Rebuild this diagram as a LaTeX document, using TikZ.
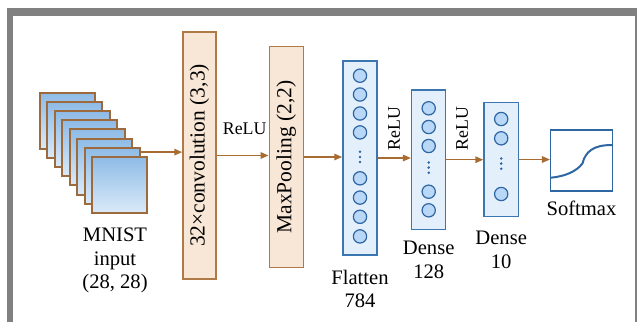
\documentclass[tikz,border=0pt]{standalone}
\usepackage{fontspec}
\setmainfont{Liberation Serif}
\usetikzlibrary{arrows.meta,calc}

\definecolor{framegray}{HTML}{808080}
\definecolor{tanfill}{HTML}{F8E6D6}
\definecolor{tanline}{HTML}{B07A48}
\definecolor{sqline}{HTML}{9C6A3C}
\definecolor{sqtop}{HTML}{8EBBE6}
\definecolor{sqmid}{HTML}{A6CBEE}
\definecolor{sqbot}{HTML}{DAEAF8}
\definecolor{bluefill}{HTML}{E3F0FC}
\definecolor{blueline}{HTML}{3C76B0}
\definecolor{neufill}{HTML}{B9D7F6}
\definecolor{neuline}{HTML}{2E66A2}
\definecolor{arrowcol}{HTML}{A86C32}
\definecolor{curvecol}{HTML}{2F66A4}

\begin{document}
\begin{tikzpicture}[x=1pt,y=-1pt,
  mainfont/.style={font=\fontsize{20.6}{23.3}\selectfont},
  relufont/.style={font=\fontsize{17.8}{20}\selectfont},
  inputsq/.style={draw=sqline,line width=2pt,top color=sqtop,middle color=sqmid,bottom color=sqbot,
    minimum width=55pt,minimum height=56pt,inner sep=0pt},
  opbox/.style={draw=tanline,fill=tanfill,line width=1.5pt,rotate=90,inner sep=0pt,
    font=\fontsize{21.5}{24}\selectfont},
  densebox/.style={draw=blueline,fill=bluefill,line width=1.5pt,inner sep=0pt},
  neuron/.style={circle,draw=neuline,fill=neufill,line width=1.2pt,minimum size=13.3pt,inner sep=0pt},
  vdot/.style={circle,fill=neuline,minimum size=2.8pt,inner sep=0pt},
  flow/.style={draw=arrowcol,line width=1.5pt,-{Triangle[length=8pt,width=6.5pt]}},
  caption/.style={mainfont,align=center,inner sep=0pt,anchor=north},
]
\useasboundingbox (0,0) rectangle (637,322);

% frame
\fill[framegray] (7,8) rectangle (637,322);
\fill[white] (13,16) rectangle (635,322);

% stack of input images
\foreach \i in {0,...,7}{
  \node[inputsq] (s\i) at ({67+7.5*\i},{121+9.1*\i}) {};
}
\node[caption] (inlab) at (115,228) {MNIST\\input\\(28, 28)};

% convolution and pooling layers
\node[opbox,minimum width=247pt,minimum height=33pt] (conv) at (199.5,155.5) {32×convolution (3,3)};
\node[opbox,minimum width=220.6pt,minimum height=34pt] (pool) at (286.3,157) {MaxPooling (2,2)};

% dense layers
\node[densebox,minimum width=34pt,minimum height=194pt] (flat) at (360,158) {};
\node[densebox,minimum width=34pt,minimum height=139.3pt] (d1) at (428.7,159.7) {};
\node[densebox,minimum width=34.3pt,minimum height=114.4pt] (d2) at (501.2,159.5) {};
\node[draw=curvecol,line width=1.5pt,minimum width=61.6pt,minimum height=60.7pt,inner sep=0pt] (soft) at (581.5,160.4) {};

% neurons
\foreach \y [count=\k] in {75.7,94.5,113.5,132.4,178.3,197.6,216.8,236.4}
  \node[neuron] (f\k) at (360,\y) {};
\foreach \y [count=\k] in {151.8,156.9,162}
  \node[vdot] (fd\k) at (360,\y) {};

\foreach \y [count=\k] in {108.3,127,146,191.7,210.3}
  \node[neuron] (a\k) at (428.7,\y) {};
\foreach \y [count=\k] in {162.5,167.6,172.7}
  \node[vdot] (ad\k) at (428.7,\y) {};

\foreach \y [count=\k] in {119,138.3,194}
  \node[neuron] (b\k) at (501.2,\y) {};
\foreach \y [count=\k] in {158.5,163.6,168.7}
  \node[vdot] (bd\k) at (501.2,\y) {};

% softmax curve
\begin{scope}[shift={(soft.center)}]
  \draw[curvecol,line width=2pt,line cap=round]
    (-30.5,17.3) .. controls (-16,15.8) and (-5,11) .. (1,3)
    .. controls (4,-9) and (12,-15.4) .. (30.5,-15.4);
\end{scope}

% captions
\node[caption] (flatlab) at (360,269.5) {Flatten\\784};
\node[caption] (d1lab) at (428.7,241.2) {Dense\\128};
\node[caption] (d2lab) at (501.2,231.2) {Dense\\10};
\node[caption] (softlab) at (581.5,200.8) {Softmax};

% activation labels
\node[relufont,inner sep=0pt] (r1) at (244.7,129.2) {ReLU};
\node[relufont,inner sep=0pt,rotate=90] (r2) at (394.2,128.5) {ReLU};
\node[relufont,inner sep=0pt,rotate=90] (r3) at (462.2,128.7) {ReLU};

% connectors
\coordinate (inout) at ([yshift=-5.5pt]s6.north east);
\draw[flow] (inout) -- (inout -| conv.north);
\draw[flow] (conv.south) -- (conv.south -| pool.north);
\draw[flow] (pool.south) -- (pool.south -| flat.west);
\draw[flow] (flat.east) -- (flat.east -| d1.west);
\draw[flow] (d1.east) -- (d1.east -| d2.west);
\draw[flow] (d2.east) -- (d2.east -| soft.west);
\end{tikzpicture}
\end{document}
